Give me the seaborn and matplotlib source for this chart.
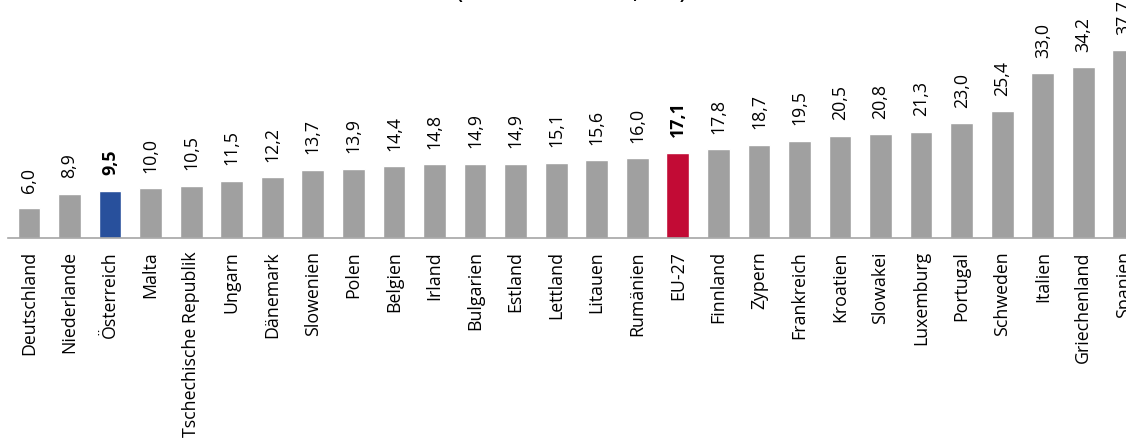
import matplotlib
matplotlib.use("Agg")
import matplotlib.pyplot as plt
import seaborn as sns
import pandas as pd

# Data
countries = [
    "Deutschland", "Niederlande", "Österreich", "Malta", "Tschechische Republik",
    "Ungarn", "Dänemark", "Slowenien", "Polen", "Belgien", "Irland", "Bulgarien",
    "Estland", "Lettland", "Litauen", "Rumänien", "EU-27", "Finnland", "Zypern",
    "Frankreich", "Kroatien", "Slowakei", "Luxemburg", "Portugal", "Schweden",
    "Italien", "Griechenland", "Spanien",
]
values = [
    6.0, 8.9, 9.5, 10.0, 10.5, 11.5, 12.2, 13.7, 13.9, 14.4, 14.8, 14.9,
    14.9, 15.1, 15.6, 16.0, 17.1, 17.8, 18.7, 19.5, 20.5, 20.8, 21.3, 23.0,
    25.4, 33.0, 34.2, 37.7,
]
title = "(Stand Oktober 2023, in %)"

# Styling
bar_gray = "#a0a0a0"
highlight = {"Österreich": "#28509c", "EU-27": "#c20b35"}
axis_gray = "#a6a6a6"
font_size = 12.8

sns.set_theme(style="white")
plt.rcParams["font.family"] = ["Open Sans", "DejaVu Sans"]

W, H = 1126, 441
fig = plt.figure(figsize=(W / 100, H / 100), dpi=100)
axis_px = 238
ax = fig.add_axes([0, (H - axis_px) / H, 1, axis_px / H])

df = pd.DataFrame({"Land": countries, "Wert": values})
palette = {c: highlight.get(c, bar_gray) for c in countries}
sns.barplot(data=df, x="Land", y="Wert", hue="Land", palette=palette,
            width=0.56, saturation=1, legend=False, ax=ax)

# Scales: category step and value scale in pixels
step_px = 40.55
first_px = 29
left = -first_px / step_px
right = left + W / step_px
ax.set_xlim(left, right)
ax.set_ylim(0, axis_px / 4.99)

for s in ["top", "right", "left"]:
    ax.spines[s].set_visible(False)
ax.spines["bottom"].set_color(axis_gray)
ax.spines["bottom"].set_linewidth(1.2)
ax.spines["bottom"].set_bounds(left + 8 / step_px, right)

ax.set_xlabel("")
ax.set_ylabel("")
ax.set_yticks([])
ax.tick_params(axis="x", length=0, pad=9.5)
ax.set_xticks(range(len(countries)))
ax.set_xticklabels(countries, rotation=90, fontsize=font_size, color="black",
                   ha="center", va="top")

for i, (c, v) in enumerate(zip(countries, values)):
    label = f"{v:.1f}".replace(".", ",")
    ax.annotate(label, (i, v), xytext=(0, 11), textcoords="offset points",
                rotation=90, ha="center", va="bottom", fontsize=font_size,
                fontweight="bold" if c in highlight else "normal",
                color="black", annotation_clip=False)

fig.text(571 / W, 1 + 1.2 / H, title, ha="center", va="baseline",
         fontsize=12.5, fontweight="bold", color="black")

fig.savefig("out.png", dpi=100)
